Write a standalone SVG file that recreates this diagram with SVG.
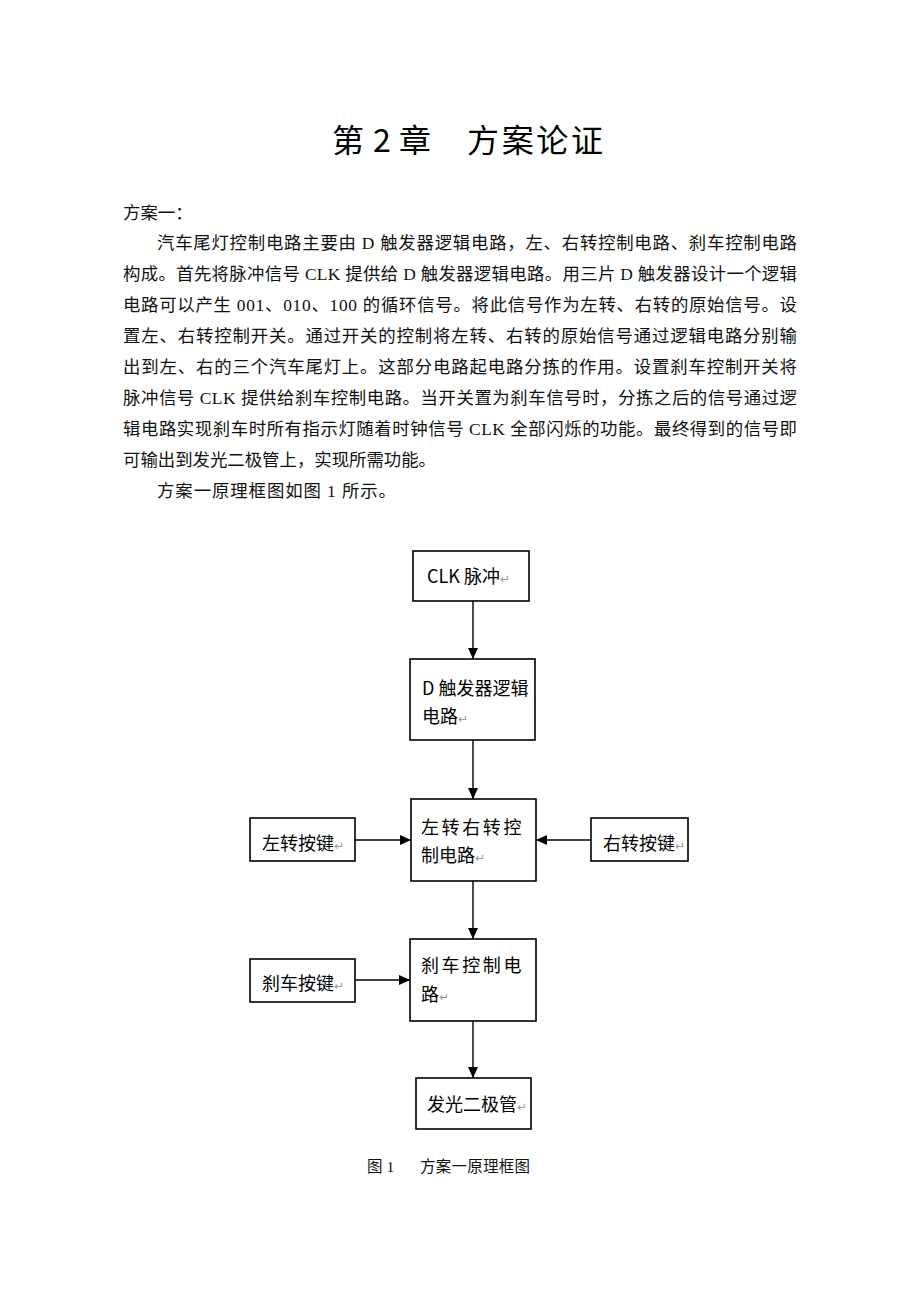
<svg xmlns="http://www.w3.org/2000/svg" width="920" height="1302" viewBox="0 0 920 1302">
<style>
.title{font-family:"Noto Sans CJK SC",sans-serif;font-size:32px;fill:#000}
.body{font-family:"Liberation Serif","Noto Sans CJK SC",serif;font-size:17.4px;fill:#111}
.box{fill:#fff;stroke:#000;stroke-width:1.6}
.lbl{font-family:"Noto Sans CJK SC",sans-serif;font-size:18px;fill:#000}
.pm{font-family:"DejaVu Sans",sans-serif;font-size:12px;fill:#999}
.cap{font-family:"Liberation Serif","Noto Sans CJK SC",serif;font-size:15.5px;fill:#111}
.conn{stroke:#000;stroke-width:1.4;fill:none;marker-end:url(#ah)}
</style>
<defs>
<marker id="ah" markerUnits="userSpaceOnUse" markerWidth="11" markerHeight="10" refX="11" refY="5" orient="auto">
<path d="M0,0 L11,5 L0,10 z" fill="#000"/>
</marker>
</defs>
<rect width="920" height="1302" fill="#fff"/>
<g id="title">
<text class="title" x="332" y="152">第</text>
<text class="title" x="373" y="152">2</text>
<text class="title" x="399" y="152">章</text>
<text class="title" x="467" y="152" textLength="136" lengthAdjust="spacing">方案论证</text>
</g>
<g id="body">
<text class="body" x="123" y="219">方案一：</text>
<text class="body" x="157" y="249" textLength="640" lengthAdjust="spacing">汽车尾灯控制电路主要由 D 触发器逻辑电路，左、右转控制电路、刹车控制电路</text>
<text class="body" x="123" y="280" textLength="674" lengthAdjust="spacing">构成。首先将脉冲信号 CLK 提供给 D 触发器逻辑电路。用三片 D 触发器设计一个逻辑</text>
<text class="body" x="123" y="311" textLength="674" lengthAdjust="spacing">电路可以产生 001、010、100 的循环信号。将此信号作为左转、右转的原始信号。设</text>
<text class="body" x="123" y="342" textLength="674" lengthAdjust="spacing">置左、右转控制开关。通过开关的控制将左转、右转的原始信号通过逻辑电路分别输</text>
<text class="body" x="123" y="373" textLength="674" lengthAdjust="spacing">出到左、右的三个汽车尾灯上。这部分电路起电路分拣的作用。设置刹车控制开关将</text>
<text class="body" x="123" y="404" textLength="674" lengthAdjust="spacing">脉冲信号 CLK 提供给刹车控制电路。当开关置为刹车信号时，分拣之后的信号通过逻</text>
<text class="body" x="123" y="435" textLength="674" lengthAdjust="spacing">辑电路实现刹车时所有指示灯随着时钟信号 CLK 全部闪烁的功能。最终得到的信号即</text>
<text class="body" x="123" y="466" textLength="313" lengthAdjust="spacing">可输出到发光二极管上，实现所需功能。</text>
<text class="body" x="157" y="497" textLength="239" lengthAdjust="spacing">方案一原理框图如图 1 所示。</text>
</g>
<g id="connectors">
<line class="conn" x1="473" y1="601" x2="473" y2="659"/>
<line class="conn" x1="473" y1="740" x2="473" y2="799"/>
<line class="conn" x1="355" y1="840" x2="411" y2="840"/>
<line class="conn" x1="591" y1="840" x2="536" y2="840"/>
<line class="conn" x1="473" y1="881" x2="473" y2="939"/>
<line class="conn" x1="355" y1="980" x2="410" y2="980"/>
<line class="conn" x1="473" y1="1021" x2="473" y2="1078"/>
</g>
<g id="clk">
<rect class="box" x="413" y="551" width="116" height="50"/>
<text class="lbl" x="427" y="583">CLK 脉冲<tspan class="pm">↵</tspan></text>
</g>
<g id="dff">
<rect class="box" x="410" y="659" width="125" height="81"/>
<text class="lbl" x="422" y="695">D 触发器逻辑</text>
<text class="lbl" x="422" y="723">电路<tspan class="pm">↵</tspan></text>
</g>
<g id="turnctrl">
<rect class="box" x="411" y="799" width="125" height="82"/>
<text class="lbl" x="421" y="834" letter-spacing="2.6">左转右转控</text>
<text class="lbl" x="421" y="862">制电路<tspan class="pm">↵</tspan></text>
</g>
<g id="leftkey">
<rect class="box" x="250" y="818" width="105" height="43"/>
<text class="lbl" x="262" y="850">左转按键<tspan class="pm">↵</tspan></text>
</g>
<g id="rightkey">
<rect class="box" x="591" y="818" width="97" height="43"/>
<text class="lbl" x="603" y="850">右转按键<tspan class="pm">↵</tspan></text>
</g>
<g id="brakectrl">
<rect class="box" x="410" y="939" width="126" height="82"/>
<text class="lbl" x="421" y="972" letter-spacing="2.6">刹车控制电</text>
<text class="lbl" x="421" y="1001">路<tspan class="pm">↵</tspan></text>
</g>
<g id="brakekey">
<rect class="box" x="250" y="959" width="105" height="43"/>
<text class="lbl" x="262" y="990">刹车按键<tspan class="pm">↵</tspan></text>
</g>
<g id="led">
<rect class="box" x="416" y="1078" width="115" height="51"/>
<text class="lbl" x="427" y="1111">发光二极管<tspan class="pm">↵</tspan></text>
</g>
<g id="caption">
<text class="cap" x="367" y="1172">图 1</text>
<text class="cap" x="420" y="1172" textLength="110" lengthAdjust="spacing">方案一原理框图</text>
</g>
</svg>
